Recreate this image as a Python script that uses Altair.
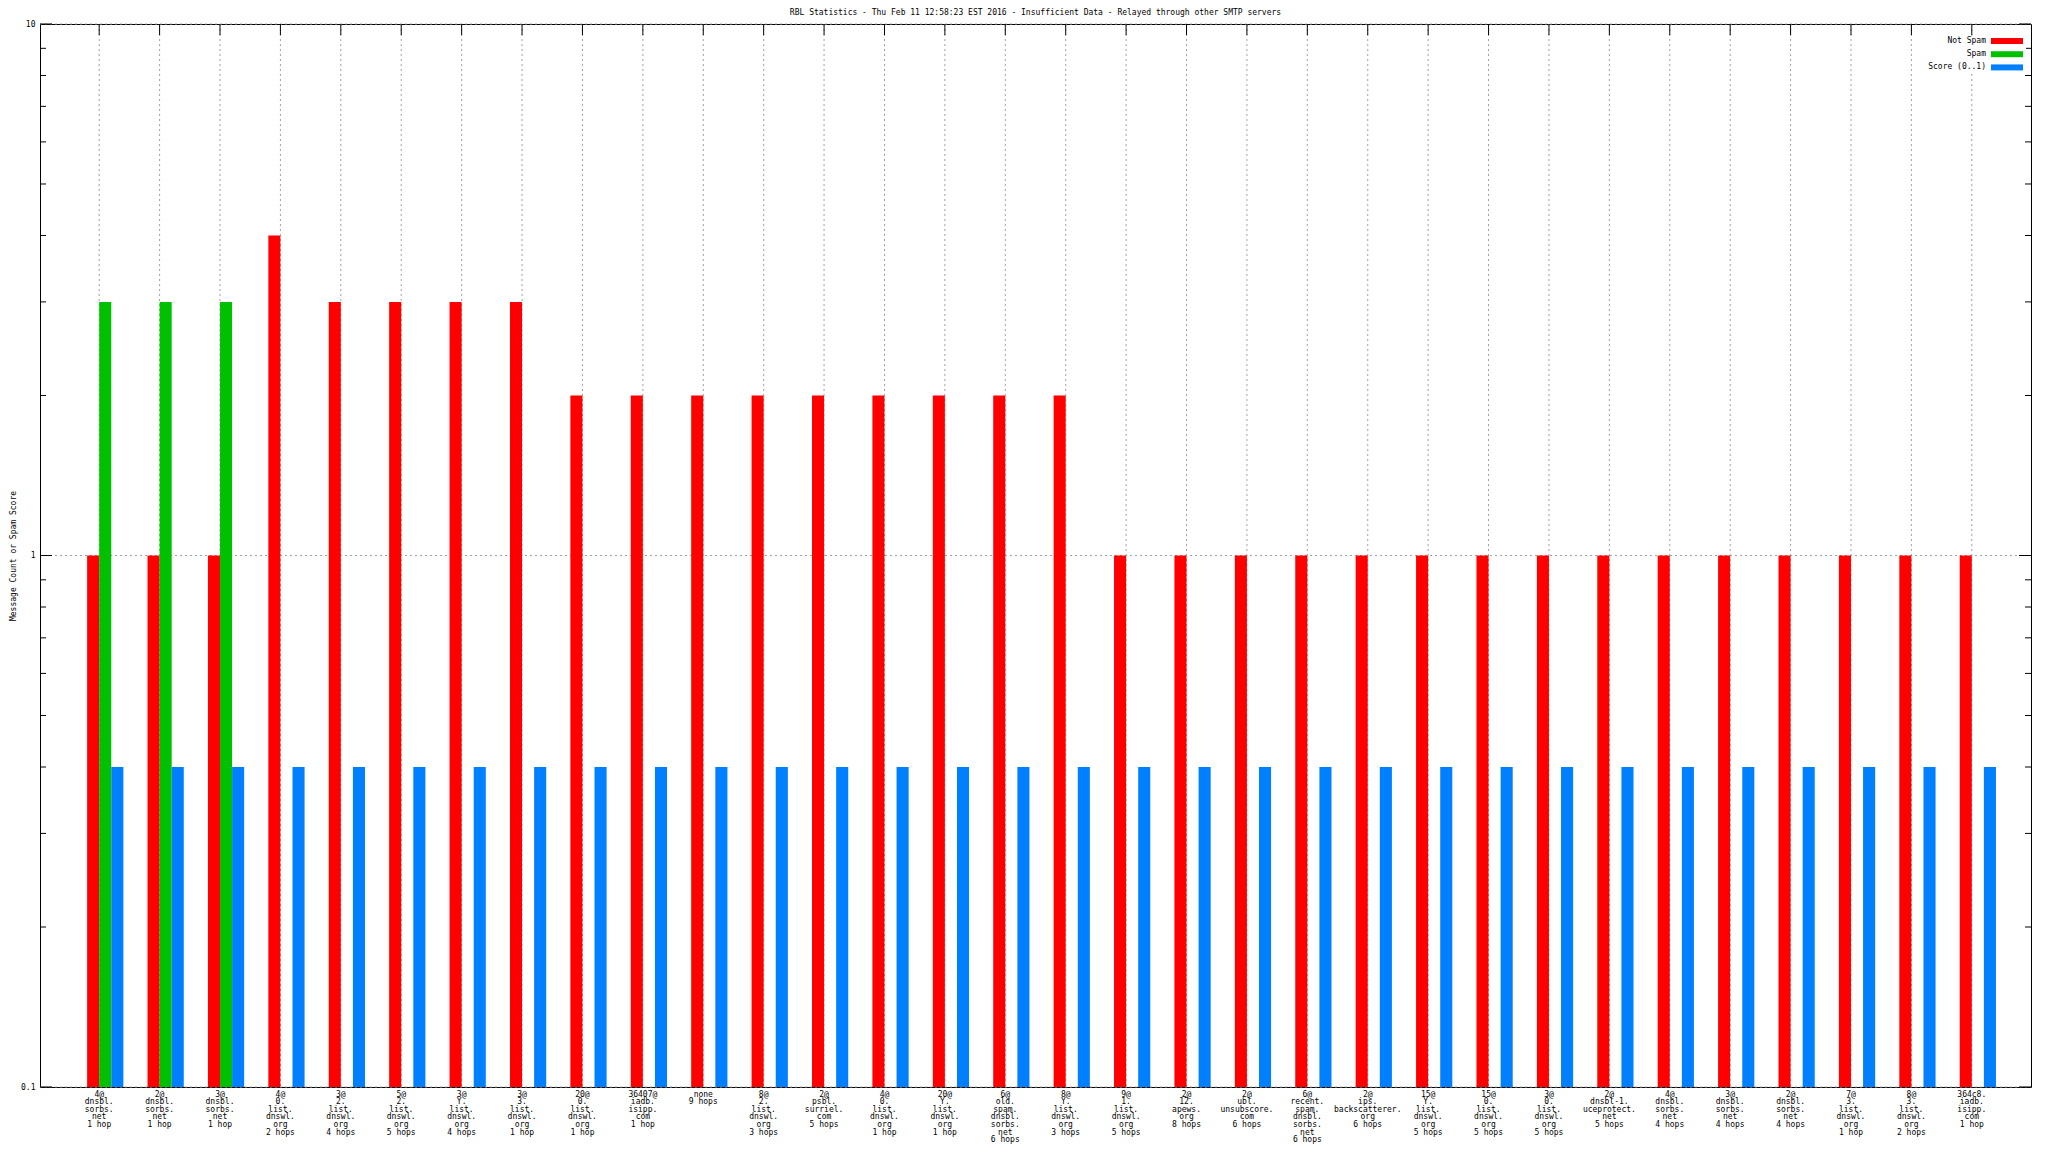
import altair as alt
import pandas as pd

# ---------------- data ----------------
categories = [
    "4@|dnsbl.|sorbs.|net|1 hop",
    "2@|dnsbl.|sorbs.|net|1 hop",
    "3@|dnsbl.|sorbs.|net|1 hop",
    "4@|0.|list.|dnswl.|org|2 hops",
    "3@|2.|list.|dnswl.|org|4 hops",
    "5@|2.|list.|dnswl.|org|5 hops",
    "3@|Y.|list.|dnswl.|org|4 hops",
    "3@|3.|list.|dnswl.|org|1 hop",
    "20@|0.|list.|dnswl.|org|1 hop",
    "36407@|iadb.|isipp.|com|1 hop",
    "none|9 hops",
    "8@|2.|list.|dnswl.|org|3 hops",
    "2@|psbl.|surriel.|com|5 hops",
    "4@|0.|list.|dnswl.|org|1 hop",
    "20@|Y.|list.|dnswl.|org|1 hop",
    "6@|old.|spam.|dnsbl.|sorbs.|net|6 hops",
    "8@|Y.|list.|dnswl.|org|3 hops",
    "9@|1.|list.|dnswl.|org|5 hops",
    "2@|12.|apews.|org|8 hops",
    "2@|ubl.|unsubscore.|com|6 hops",
    "6@|recent.|spam.|dnsbl.|sorbs.|net|6 hops",
    "2@|ips.|backscatterer.|org|6 hops",
    "15@|Y.|list.|dnswl.|org|5 hops",
    "15@|0.|list.|dnswl.|org|5 hops",
    "3@|0.|list.|dnswl.|org|5 hops",
    "2@|dnsbl-1.|uceprotect.|net|5 hops",
    "4@|dnsbl.|sorbs.|net|4 hops",
    "3@|dnsbl.|sorbs.|net|4 hops",
    "2@|dnsbl.|sorbs.|net|4 hops",
    "7@|3.|list.|dnswl.|org|1 hop",
    "8@|3.|list.|dnswl.|org|2 hops",
    "364c8.|iadb.|isipp.|com|1 hop",
]

not_spam = [1, 1, 1, 4, 3, 3, 3, 3, 2, 2, 2, 2, 2, 2, 2, 2, 2,
            1, 1, 1, 1, 1, 1, 1, 1, 1, 1, 1, 1, 1, 1, 1]
spam = [3, 3, 3, None, None, None, None, None, None, None, None, None, None, None, None, None, None,
        None, None, None, None, None, None, None, None, None, None, None, None, None, None, None]
score = [0.4, 0.4, 0.4, 0.4, 0.4, 0.4, 0.4, 0.4, 0.4, 0.4, 0.4, 0.4, 0.4, 0.4, 0.4, 0.4,
         0.4, 0.4, 0.4, 0.4, 0.4, 0.4, 0.4, 0.4, 0.4, 0.4, 0.4, 0.4, 0.4, 0.4, 0.4, 0.4]

series = ["Not Spam", "Spam", "Score (0..1)"]
colors = ["#ff0000", "#00c000", "#0080ff"]

y_major = [0.1, 1, 10]
y_minor = [0.2, 0.3, 0.4, 0.5, 0.6, 0.7, 0.8, 0.9, 2, 3, 4, 5, 6, 7, 8, 9]

title_text = "RBL Statistics - Thu Feb 11 12:58:23 EST 2016 - Insufficient Data - Relayed through other SMTP servers"
y_title = "Message Count or Spam Score"

# ---------------- tables ----------------
rows = []
for name, vals in zip(series, [not_spam, spam, score]):
    for c, v in zip(categories, vals):
        if v is not None:
            rows.append({"cat": c, "series": name, "value": v})
bar_df = pd.DataFrame(rows)
cat_df = pd.DataFrame({"cat": categories})
ymaj_df = pd.DataFrame({"value": y_major})
ymin_df = pd.DataFrame({"value": y_minor})

W, H = 1991, 1063
FONT = "DejaVu Sans Mono"
GRID = "#a0a0a0"

x_scale = alt.Scale(domain=categories, paddingInner=0, paddingOuter=0.48)
y_scale = alt.Scale(type="log", domain=[0.1, 10])

x_axis = alt.Axis(
    ticks=False, domain=False, grid=False, labelAngle=0,
    labelExpr="split(datum.label, '|')", labelFont=FONT, labelFontSize=8,
    labelLineHeight=7.6, labelPadding=3, labelBaseline="top", labelOverlap=False,
    labelLimit=0, labelColor="black", title=None, bandPosition=0.5,
)
y_axis = alt.Axis(
    values=y_major, ticks=False, domain=False, grid=False, format="~g",
    labelFont=FONT, labelFontSize=8, labelPadding=5, labelColor="black",
    title=y_title, titleFont=FONT, titleFontSize=8, titleFontWeight="normal",
    titleColor="black", titleX=-27, titleY=H / 2, titleAngle=270,
    titleAlign="center", titleBaseline="middle",
)

X = alt.X("cat:N", scale=x_scale, axis=x_axis)
Y = alt.Y("value:Q", scale=y_scale, axis=y_axis)

bars = alt.Chart(bar_df).mark_bar().encode(
    x=X,
    xOffset=alt.XOffset("series:N", scale=alt.Scale(domain=["_pad"] + series, paddingInner=0, paddingOuter=0.5)),
    y=Y,
    y2=alt.datum(0.1),
    color=alt.Color("series:N", scale=alt.Scale(domain=series, range=colors), legend=None),
)

vgrid = alt.Chart(cat_df).mark_rule(color=GRID, strokeDash=[2, 3], strokeWidth=1).encode(
    x=X, y=alt.value(0), y2=alt.value(H)
)
hgrid = alt.Chart(ymaj_df).mark_rule(color=GRID, strokeDash=[2, 3], strokeWidth=1).encode(
    y=Y, x=alt.value(0), x2=alt.value(W)
)
top_ticks = alt.Chart(cat_df).mark_rule(color="black", strokeWidth=1).encode(
    x=X, y=alt.value(0), y2=alt.value(11)
)

layers = [vgrid, hgrid, bars, top_ticks]
for df, ln in [(ymaj_df, 12), (ymin_df, 6)]:
    layers.append(alt.Chart(df).mark_rule(color="black", strokeWidth=1).encode(
        y=Y, x=alt.value(0), x2=alt.value(ln)))
    layers.append(alt.Chart(df).mark_rule(color="black", strokeWidth=1).encode(
        y=Y, x=alt.value(W - ln), x2=alt.value(W)))

# legend (gnuplot style: label then colour swatch, top right inside the plot)
one = pd.DataFrame({"k": [0]})
layers.append(alt.Chart(one).mark_rect(color="white").encode(
    x=alt.value(1884), x2=alt.value(1986), y=alt.value(12), y2=alt.value(50)))
for i, (name, col) in enumerate(zip(series, colors)):
    yc = 17 + 13.2 * i
    layers.append(alt.Chart(one).mark_text(
        text=name, font=FONT, fontSize=8, align="right", baseline="middle", color="black"
    ).encode(x=alt.value(1946), y=alt.value(yc)))
    layers.append(alt.Chart(one).mark_rect(color=col).encode(
        x=alt.value(1951), x2=alt.value(1983), y=alt.value(yc - 3), y2=alt.value(yc + 3)))

# chart title (as a text mark above the frame, gnuplot style)
layers.append(alt.Chart(one).mark_text(
    text=title_text, font=FONT, fontSize=8, align="center", baseline="middle", color="black"
).encode(x=alt.value(W / 2), y=alt.value(-11)))

chart = alt.layer(*layers).properties(
    width=W, height=H,
    autosize=alt.AutoSizeParams(type="none"),
    padding={"left": 32, "top": 16, "right": 9, "bottom": 57},
    background="white",
).configure_view(stroke="black", strokeWidth=1)

chart.save("out.html", embed_options={"renderer": "svg", "actions": False})
